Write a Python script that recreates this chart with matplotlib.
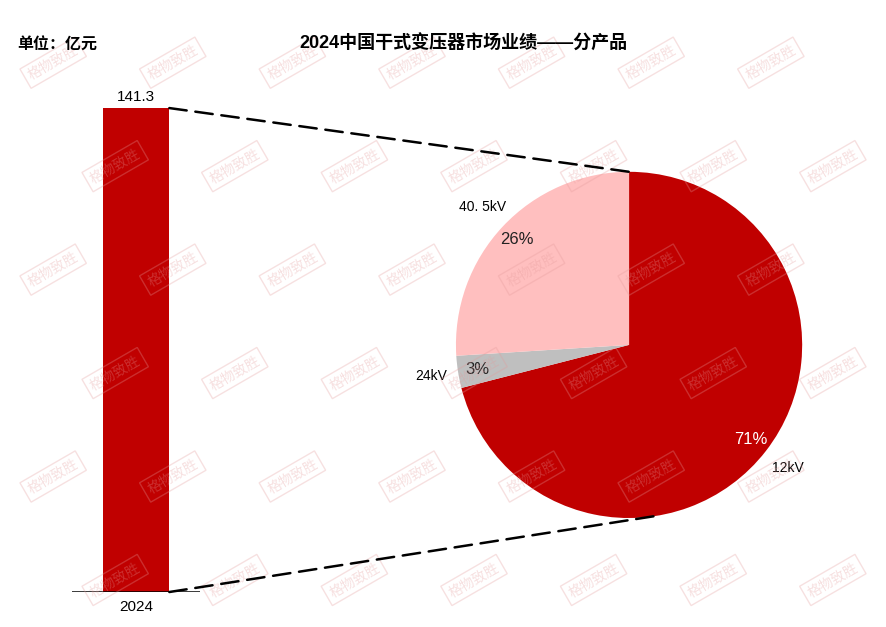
import numpy as np
import matplotlib.pyplot as plt
from matplotlib.patches import ConnectionPatch

plt.rcParams['font.family'] = ['Liberation Sans', 'Noto Sans CJK SC', 'DejaVu Sans']

# data
years = ['2024']
totals = [141.3]
products = ['12kV', '24kV', '40. 5kV']
shares = [71, 3, 26]
colors = ['#C00000', '#BFBFBF', '#FFBFBF']

fig = plt.figure(figsize=(8.86, 6.27), dpi=100)

# watermark stamps (only the ones that fit inside the picture)
for row, yy in enumerate(np.arange(0.90, 0.0, -0.165)):
    off = 0.07 if row % 2 else 0.0
    for xx in np.arange(0.06 + off, 0.96, 0.135):
        fig.text(xx, yy, '格物致胜', rotation=30, fontsize=10, color='#E49A9A',
                 alpha=0.3, ha='center', va='center', zorder=0,
                 family=['Noto Sans CJK SC'],
                 bbox=dict(boxstyle='square,pad=0.3', fc='none', ec='#E49A9A',
                           lw=1.0, alpha=0.3))

# bar
ax_bar = fig.add_axes([0.0813, 0.0558, 0.1445, 0.874])
ax_bar.bar(years, totals, width=0.52, color=colors[0], zorder=2)
ax_bar.set_xlim(-0.5, 0.5)
ax_bar.set_ylim(0, 160)
ax_bar.axhline(0, color='black', lw=1.8, zorder=3)
for s in ax_bar.spines.values():
    s.set_visible(False)
ax_bar.set_yticks([])
ax_bar.tick_params(axis='x', length=0, labelsize=11, pad=6)
for i, v in enumerate(totals):
    ax_bar.text(i, v + 1.2, f'{v}', ha='center', va='bottom', fontsize=11)

# pie
ax_pie = fig.add_axes([0.456, 0.0909, 0.508, 0.718])
wedges, texts, autotexts = ax_pie.pie(
    shares, labels=products, colors=colors, startangle=90, counterclock=False,
    autopct='%d%%', pctdistance=0.89, labeldistance=1.16, radius=1,
    textprops=dict(fontsize=10))
for t in texts:
    t.set_ha('center')
for t, c in zip(autotexts, ['white', '#222222', '#222222']):
    t.set_color(c)
    t.set_fontsize(12)
ax_pie.set_xlim(-1.3, 1.3)
ax_pie.set_ylim(-1.3, 1.3)
ax_pie.set_aspect('equal')
ax_pie.axis('off')

# connecting dashed lines
ang = np.deg2rad(-81)
for yb, pt in [(totals[0], (0, 1)), (0, (np.cos(ang), np.sin(ang)))]:
    con = ConnectionPatch(xyA=(0.26, yb), coordsA=ax_bar.transData,
                          xyB=pt, coordsB=ax_pie.transData,
                          color='black', lw=1.8, linestyle=(0, (7, 3.5)))
    fig.add_artist(con)

fig.text(0.523, 0.93, '2024中国干式变压器市场业绩——分产品', ha='center',
         va='center', fontsize=13, fontweight='bold')
fig.text(0.02, 0.928, '单位：亿元', ha='left', va='center', fontsize=11.5,
         fontweight='bold')

fig.savefig('out.png', dpi=100)
